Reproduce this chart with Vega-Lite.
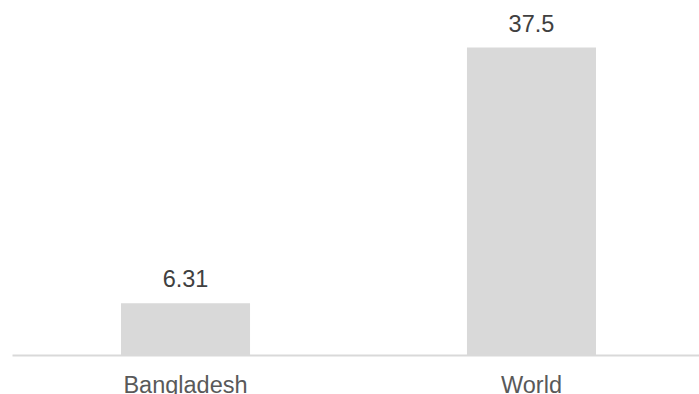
{
  "$schema": "https://vega.github.io/schema/vega-lite/v6.json",
  "width": 687,
  "height": 355,
  "autosize": {"type": "none"},
  "padding": {"left": 12, "top": 0, "right": 0, "bottom": 39},
  "background": "white",
  "config": {"view": {"stroke": null}, "font": "Liberation Sans"},
  "data": {"values": [
    {"country": "Bangladesh", "value": 6.31, "label": "6.31"},
    {"country": "World", "value": 37.5, "label": "37.5"}
  ]},
  "encoding": {
    "x": {
      "field": "country", "type": "nominal", "sort": null,
      "scale": {"paddingInner": 0.627, "paddingOuter": 0.315, "range": [0, 693]},
      "axis": {
        "title": null, "labelAngle": 0, "ticks": false, "tickSize": 0,
        "labelPadding": 37, "labelBaseline": "alphabetic",
        "labelFont": "Liberation Sans", "labelFontSize": 23.5, "labelColor": "#595959",
        "domainColor": "#d9d9d9", "domainWidth": 2, "grid": false
      }
    },
    "y": {
      "field": "value", "type": "quantitative",
      "scale": {"domain": [0, 43.3], "nice": false, "zero": true},
      "axis": null
    }
  },
  "layer": [
    {"mark": {"type": "bar", "color": "#d9d9d9"}},
    {
      "mark": {"type": "text", "baseline": "alphabetic", "dy": -16, "fontSize": 23.5, "color": "#404040", "font": "Liberation Sans"},
      "encoding": {"text": {"field": "label"}}
    }
  ]
}
